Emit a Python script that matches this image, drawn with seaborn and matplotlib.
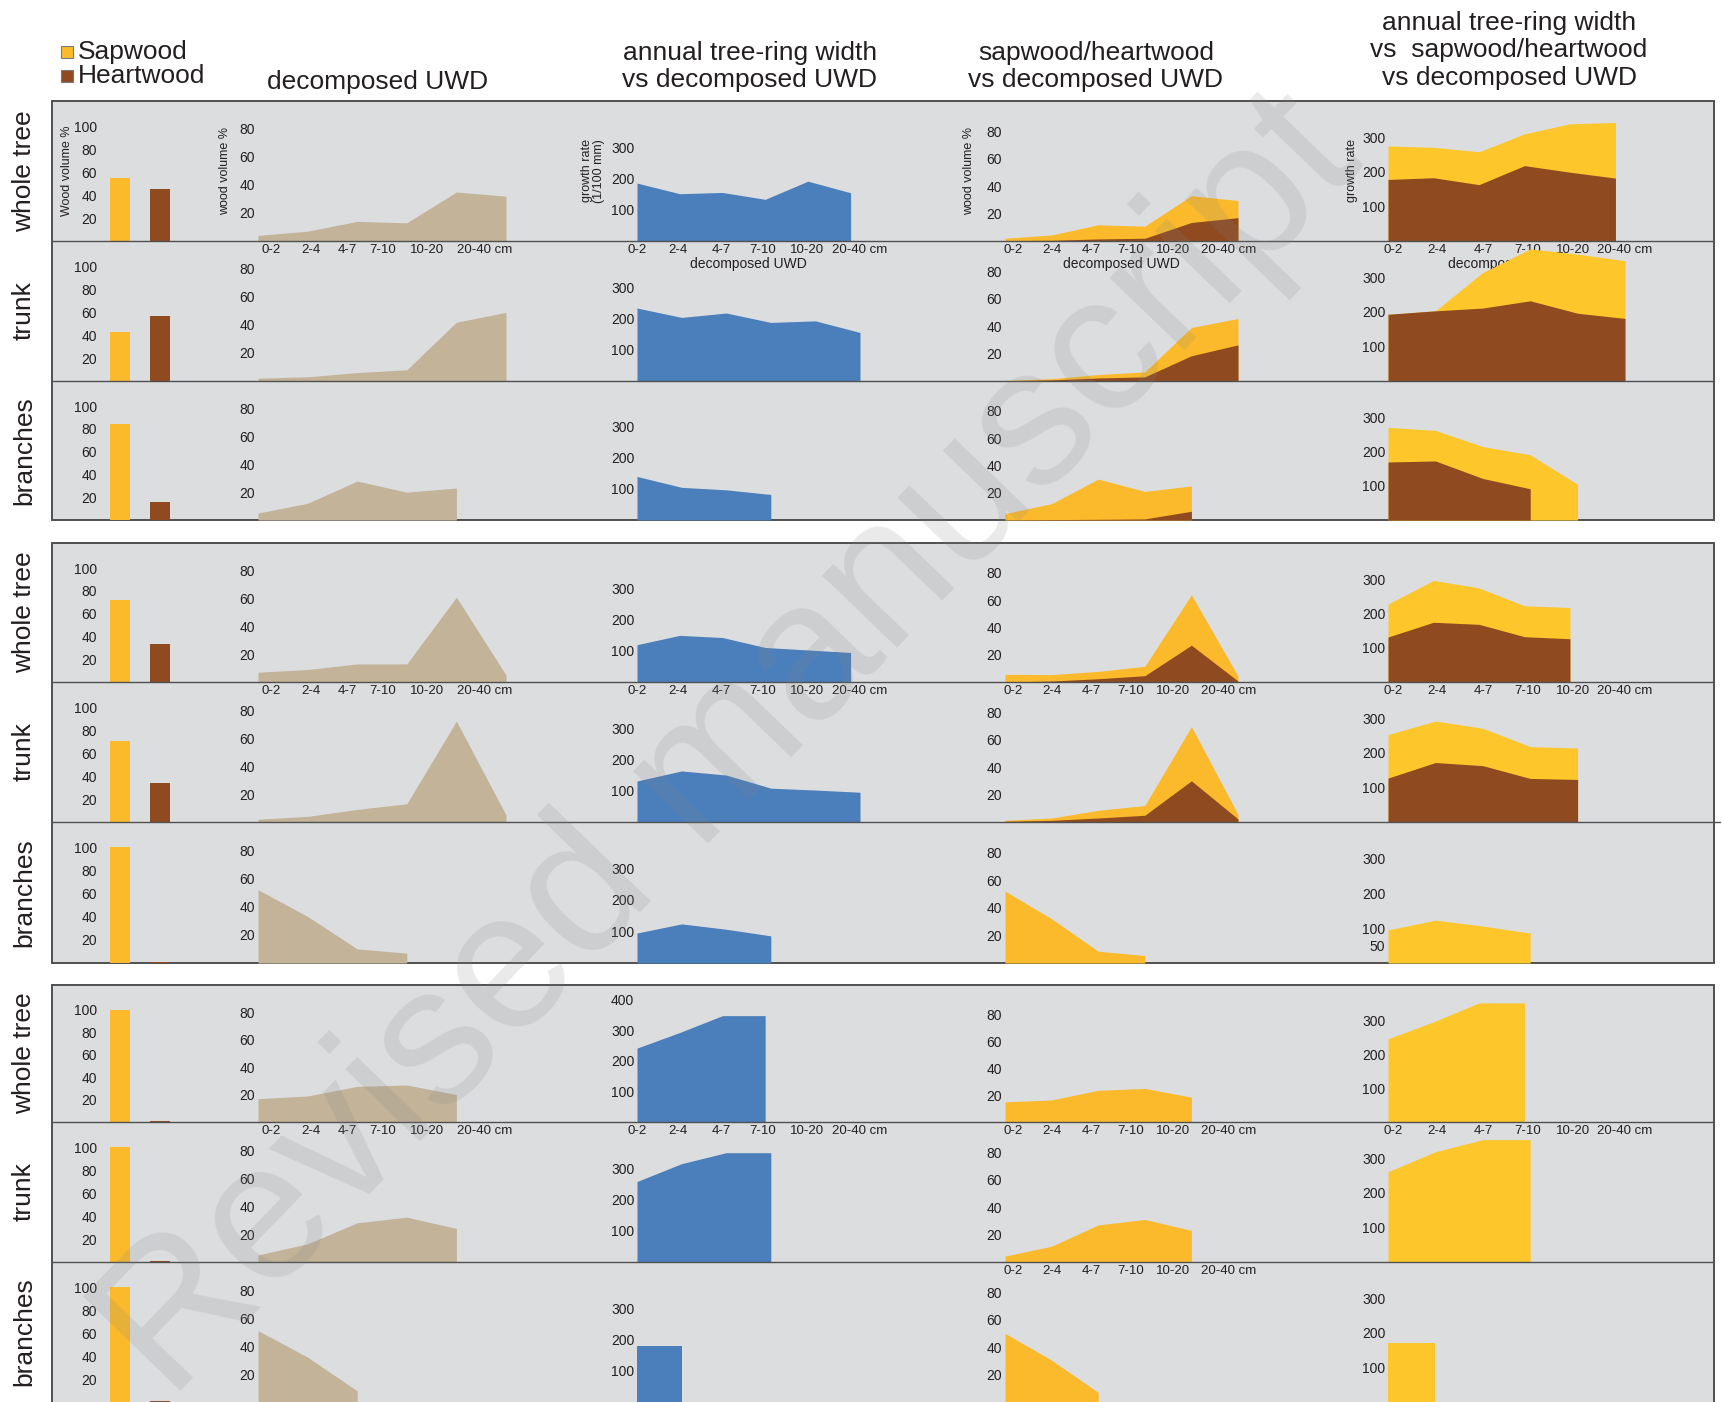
import numpy as np
import matplotlib
matplotlib.use('Agg')
import matplotlib.pyplot as plt
from matplotlib.patches import Rectangle
from matplotlib.lines import Line2D
import seaborn as sns

nan = np.nan

# ---- data ----
categories = ['0-2', '2-4', '4-7', '7-10', '10-20', '20-40 cm']
parts = ['whole tree', 'trunk', 'branches']

# wood volume % (sapwood / heartwood), one value per part, per site group
sap_share_1 = [55, 43, 84]
heart_share_1 = [45, 57, 16]
sap_share_2 = [72, 71, 100]
heart_share_2 = [33, 34, 1]
sap_share_3 = [100, 100, 100]
heart_share_3 = [0.7, 0.7, 0.7]

# decomposed UWD, wood volume %
uwd_1 = [[4, 7, 14, 13, 35, 32], [2, 3, 6, 8, 42, 49], [5, 12, 28, 20, 23, nan]]
uwd_2 = [[7, 9, 13, 13, 61, 5], [2, 4, 9, 13, 72, 5], [52, 33, 10, 7, nan, nan]]
uwd_3 = [[17, 19, 26, 27, 20, nan], [5, 13, 28, 32, 24, nan], [51, 32, 8, nan, nan, nan]]

# annual tree-ring width, growth rate (1/100 mm)
growth_1 = [[185, 151, 155, 133, 191, 154], [233, 203, 217, 187, 192, 155], [140, 105, 97, 82, nan, nan]]
growth_2 = [[120, 150, 143, 111, 103, 95], [131, 163, 150, 108, 102, 95], [95, 124, 107, 86, nan, nan]]
growth_3 = [[241, 292, 347, 347, nan, nan], [257, 314, 349, 349, nan, nan], [178, 178, nan, nan, nan, nan]]

# sapwood / heartwood wood volume %
sw_vol_1 = [[2, 4.4, 11.8, 10.8, 33, 29.5], [0.5, 1.7, 4.7, 6.6, 39, 45.5], [4.7, 12, 30, 21, 25, nan]]
hw_vol_1 = [[0.3, 0.5, 1.5, 2, 13.5, 17], [0.2, 0.8, 2.2, 3, 18.4, 26.3], [0, 0.3, 0.5, 0.8, 6.4, nan]]
sw_vol_2 = [[5.6, 5.4, 7.8, 11.5, 64, 4.4], [1.2, 2.9, 8.5, 12, 69.5, 5.6], [52, 32, 8.5, 5.4, nan, nan]]
hw_vol_2 = [[0, 0.7, 2.4, 4.6, 27, 0.7], [0.5, 1.2, 2.9, 4.9, 30, 2.2], [nan] * 6]
sw_vol_3 = [[15, 16.4, 23.6, 25, 18.5, nan], [4.3, 11.5, 27, 31, 23, nan], [50, 30.5, 7, nan, nan, nan]]
hw_vol_3 = [[nan] * 6, [nan] * 6, [nan] * 6]

# growth rate of sapwood / heartwood
sw_growth_1 = [[275, 271, 258, 310, 339, 343], [193, 203, 314, 382, 367, 348], [270, 261, 214, 190, 104, nan]]
hw_growth_1 = [[178, 183, 163, 218, 199, 182], [193, 203, 211, 232, 196, 181], [169, 172, 121, 91, nan, nan]]
sw_growth_2 = [[227, 296, 274, 222, 217, nan], [253, 292, 271, 218, 214, nan], [95, 123, 106, 86, nan, nan]]
hw_growth_2 = [[131, 174, 168, 132, 126, nan], [127, 172, 163, 126, 123, nan], [nan] * 6]
sw_growth_3 = [[246, 296, 352, 352, nan, nan], [261, 319, 354, 354, nan, nan], [171, 171, nan, nan, nan, nan]]
hw_growth_3 = [[nan] * 6, [nan] * 6, [nan] * 6]

# ---- styling ----
SAP = '#FBBA2B'
SAP2 = '#FDC62A'
HEART = '#8F4A20'
TAN = '#C2B399'
BLUE = '#4A7FBB'
PANEL = '#DCDDDF'
EDGE = '#505050'
INK = '#231F20'

sns.set_theme(style='white')
plt.rcParams['font.family'] = ['Liberation Sans', 'DejaVu Sans']
plt.rcParams['text.color'] = INK
plt.rcParams['axes.labelcolor'] = INK
plt.rcParams['xtick.color'] = INK
plt.rcParams['ytick.color'] = INK

W, H = 1723, 1402
fig = plt.figure(figsize=(W / 100, H / 100), dpi=100)


def rect(x0, x1, top, bottom):
    return [x0 / W, 1 - bottom / H, (x1 - x0) / W, (bottom - top) / H]


box_x0, box_x1 = 52, 1714
group_edges = [(101, 241, 381, 520), (543, 682, 822, 963), (985, 1122, 1262, 1402)]
cols = {'bar': (100, 180), 'uwd': (258, 506), 'growth': (637, 860),
        'sap': (1005, 1238), 'comb': (1388, 1625)}

groups = [
    (sap_share_1, heart_share_1, uwd_1, growth_1, sw_vol_1, hw_vol_1, sw_growth_1, hw_growth_1),
    (sap_share_2, heart_share_2, uwd_2, growth_2, sw_vol_2, hw_vol_2, sw_growth_2, hw_growth_2),
    (sap_share_3, heart_share_3, uwd_3, growth_3, sw_vol_3, hw_vol_3, sw_growth_3, hw_growth_3),
]

# which panels show the size-class labels below them
xlabels_on = {(0, 0): ['uwd', 'growth', 'sap', 'comb'],
              (1, 0): ['uwd', 'growth', 'sap', 'comb'],
              (2, 0): ['uwd', 'growth', 'sap', 'comb'],
              (2, 1): ['sap']}

x = np.arange(len(categories))
# where the size-class labels sit along each axis (the original packs them differently per column)
tick_pos = {'uwd': [0.27, 1.07, 1.8, 2.51, 3.4, 4.56],
            'sap': [0.17, 1.01, 1.86, 2.69, 3.61, 4.79],
            'growth': [0, 0.96, 1.97, 2.95, 3.97, 5.22],
            'comb': [0.12, 1.08, 2.1, 3.07, 4.06, 5.21]}


def style(ax, ylim, yticks, show_x, key=None):
    ax.set_facecolor('none')
    for s in ax.spines.values():
        s.set_visible(False)
    ax.set_ylim(*ylim)
    ax.set_yticks(yticks)
    ax.set_yticklabels([str(t) for t in yticks])
    ax.tick_params(axis='y', length=0, labelsize=10, pad=2)
    ax.tick_params(axis='x', length=0, labelsize=9.5, pad=2)
    ax.set_xlabel('')
    ax.set_ylabel('')
    if show_x:
        ax.set_xticks(tick_pos[key])
        ax.set_xticklabels(categories)
    else:
        ax.set_xticks([])


for g, (edges, data) in enumerate(zip(group_edges, groups)):
    sap_share, heart_share, uwd, growth, sw_vol, hw_vol, sw_gr, hw_gr = data
    bottom_box = edges[3] + (20 if g == 2 else 0)
    fig.add_artist(Rectangle((box_x0 / W, 1 - bottom_box / H), (box_x1 - box_x0) / W,
                             (bottom_box - edges[0]) / H, transform=fig.transFigure,
                             facecolor=PANEL, edgecolor=EDGE, lw=1.4, zorder=-2))
    for i, e in enumerate(edges[1:3]):
        x_end = 1720 if (g == 1 and i == 1) else box_x1
        fig.add_artist(Line2D([box_x0 / W, x_end / W], [1 - e / H, 1 - e / H],
                              transform=fig.transFigure, color=EDGE, lw=1.0, zorder=5))

    for r, part in enumerate(parts):
        top, bot = edges[r], edges[r + 1]
        fig.text(24 / W, 1 - (top + bot) / 2 / H, part, rotation=90,
                 ha='center', va='center', fontsize=19)
        show = xlabels_on.get((g, r), [])

        # sapwood / heartwood share
        ax = fig.add_axes(rect(*cols['bar'], top, bot))
        sns.barplot(x=['Sapwood', 'Heartwood'], y=[sap_share[r], heart_share[r]],
                    hue=['Sapwood', 'Heartwood'], palette=[SAP, HEART], saturation=1,
                    width=0.52, legend=False, linewidth=0, edgecolor='none', ax=ax)
        ax.set_xlim(-0.5, 1.5)
        style(ax, (0, 122), [20, 40, 60, 80, 100], False)
        if g == 0 and r == 0:
            ax.set_ylabel('Wood volume %', fontsize=9, labelpad=1)

        # decomposed UWD
        ax = fig.add_axes(rect(*cols['uwd'], top, bot))
        ax.fill_between(x, np.array(uwd[r], float), color=TAN, lw=0)
        ax.set_xlim(0, 5)
        style(ax, (0, 100), [20, 40, 60, 80], 'uwd' in show, 'uwd')
        if g == 0 and r == 0:
            ax.set_ylabel('wood volume %', fontsize=9, labelpad=6)

        # annual tree-ring width
        ax = fig.add_axes(rect(*cols['growth'], top, bot))
        ax.fill_between(x, np.array(growth[r], float), color=BLUE, lw=0)
        ax.set_xlim(0, 5)
        gt = [100, 200, 300, 400] if (g == 2 and r == 0) else [100, 200, 300]
        style(ax, (0, 447), gt, 'growth' in show, 'growth')
        if g == 0 and r == 0:
            ax.set_ylabel('growth rate\n(1/100 mm)', fontsize=9, labelpad=4, linespacing=1.0)
            ax.set_xlabel('decomposed UWD', fontsize=10, labelpad=1)

        # sapwood / heartwood volume
        ax = fig.add_axes(rect(*cols['sap'], top, bot))
        ax.fill_between(x, np.array(sw_vol[r], float), color=SAP, lw=0)
        ax.fill_between(x, np.array(hw_vol[r], float), color=HEART, lw=0)
        ax.set_xlim(0, 5)
        style(ax, (0, 102), [20, 40, 60, 80], 'sap' in show, 'sap')
        if g == 0 and r == 0:
            ax.set_ylabel('wood volume %', fontsize=9, labelpad=8)
            ax.set_xlabel('decomposed UWD', fontsize=10, labelpad=1)

        # growth of sapwood / heartwood
        ax = fig.add_axes(rect(*cols['comb'], top, bot))
        ax.fill_between(x, np.array(sw_gr[r], float), color=SAP2, lw=0)
        ax.fill_between(x, np.array(hw_gr[r], float), color=HEART, lw=0)
        ax.set_xlim(0, 5)
        ct = [50, 100, 200, 300] if (g == 1 and r == 2) else [100, 200, 300]
        style(ax, (0, 405), ct, 'comb' in show, 'comb')
        if g == 0 and r == 0:
            ax.set_ylabel('growth rate', fontsize=9, labelpad=3)
            ax.set_xlabel('decomposed UWD', fontsize=10, labelpad=1)

# column headers
fig.text(378 / W, 1 - 82 / H, 'decomposed UWD', ha='center', va='center', fontsize=19)
fig.text(750 / W, 1 - 66.5 / H, 'annual tree-ring width\nvs decomposed UWD',
         ha='center', va='center', fontsize=19, linespacing=1.2)
fig.text(1096 / W, 1 - 66.5 / H, 'sapwood/heartwood\nvs decomposed UWD',
         ha='center', va='center', fontsize=19, linespacing=1.2)
fig.text(1509 / W, 1 - 50.5 / H, 'annual tree-ring width\nvs  sapwood/heartwood\nvs decomposed UWD',
         ha='center', va='center', fontsize=19, linespacing=1.2)

# legend
for (label, color, yc) in [('Sapwood', SAP, 52), ('Heartwood', HEART, 76)]:
    fig.add_artist(Rectangle((61 / W, 1 - (yc + 6) / H), 12 / W, 12 / H,
                             transform=fig.transFigure, facecolor=color,
                             edgecolor='#7a7a7a', lw=0.8))
    fig.text(78 / W, 1 - yc / H, label, ha='left', va='center', fontsize=19)

# watermark
fig.text(0.424, 0.467, 'Revised manuscript', rotation=46, rotation_mode='anchor',
         ha='center', va='center', fontsize=141, color='#858585', alpha=0.17, zorder=20)

fig.savefig('out.png', dpi=100, facecolor='white')
